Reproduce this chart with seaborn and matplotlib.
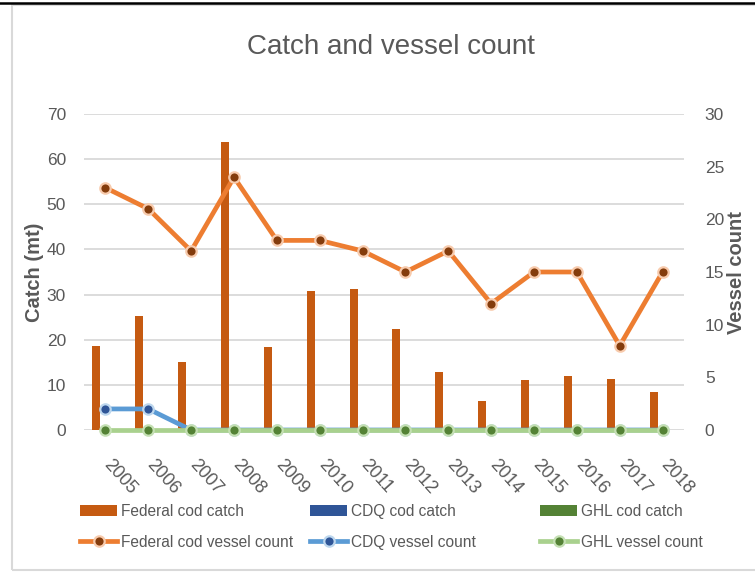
import matplotlib
matplotlib.use("Agg")
import matplotlib.pyplot as plt
import matplotlib.transforms as mtransforms
from matplotlib.patches import Rectangle, Patch
from matplotlib.lines import Line2D
import numpy as np
import pandas as pd
import seaborn as sns

# ---------------- data ----------------
years = ['2005', '2006', '2007', '2008', '2009', '2010', '2011',
         '2012', '2013', '2014', '2015', '2016', '2017', '2018']
federal_catch = [18.7, 25.2, 15.0, 63.7, 18.4, 30.9, 31.2, 22.4, 12.8, 6.5, 11.1, 12.0, 11.3, 8.5]
cdq_catch = [0, 0, 0, 0, 0, 0, 0, 0, 0, 0, 0, 0, 0, 0]
ghl_catch = [0, 0, 0, 0, 0, 0, 0, 0, 0, 0, 0, 0, 0, 0]
federal_vessels = [23, 21, 17, 24, 18, 18, 17, 15, 17, 12, 15, 15, 8, 15]
cdq_vessels = [2, 2, 0, 0, 0, 0, 0, 0, 0, 0, 0, 0, 0, 0]
ghl_vessels = [0, 0, 0, 0, 0, 0, 0, 0, 0, 0, 0, 0, 0, 0]
catch_series = ['Federal cod catch', 'CDQ cod catch', 'GHL cod catch']
vessel_series = ['Federal cod vessel count', 'CDQ vessel count', 'GHL vessel count']
left_ticks = [0, 10, 20, 30, 40, 50, 60, 70]
right_ticks = [0, 5, 10, 15, 20, 25, 30]

# ---------------- style ----------------
FONT = ['Liberation Sans', 'DejaVu Sans']
GRAY = '#595959'
bar_colors = ['#C55A11', '#2F5597', '#548235']
line_colors = ['#ED7D31', '#5B9BD5', '#A9D18E']
mk_face = ['#843C0C', '#2F5597', '#548235']
mk_edge = ['#F8CBAD', '#BDD7EE', '#C5E0B4']

plt.rcParams['font.family'] = FONT

fig = plt.figure(figsize=(7.55, 5.79), dpi=100)
ax = fig.add_axes([84 / 755, 1 - 430 / 579, 600 / 755, 316 / 579])

df = pd.DataFrame({
    'year': years * 3,
    'catch': federal_catch + cdq_catch + ghl_catch,
    'series': [catch_series[0]] * len(years) + [catch_series[1]] * len(years) + [catch_series[2]] * len(years),
})
sns.barplot(data=df, x='year', y='catch', hue='series', hue_order=catch_series,
            palette=bar_colors, saturation=1, width=0.63, gap=0.1,
            ax=ax, legend=False, edgecolor='none', zorder=2)

ax.set_ylim(0, 70)
ax.set_yticks(left_ticks)
ax.yaxis.grid(True, color='#D9D9D9', linewidth=1.3, zorder=0)
ax.set_axisbelow(True)
for s in ax.spines.values():
    s.set_visible(False)
ax.set_xlabel('')
ax.set_ylabel('')
ax.tick_params(axis='y', length=0, pad=13, labelsize=12.5, labelcolor=GRAY)
ax.tick_params(axis='x', length=0, pad=19, labelsize=13, labelcolor=GRAY)
offset = mtransforms.ScaledTranslation(-5 / 100, 0, fig.dpi_scale_trans)
for lab in ax.get_xticklabels():
    lab.set_rotation(-48)
    lab.set_ha('left')
    lab.set_va('top')
    lab.set_transform(lab.get_transform() + offset)

ax2 = ax.twinx()
pos = np.arange(len(years))
for vals, lc, fc, ec in zip([federal_vessels, cdq_vessels, ghl_vessels], line_colors, mk_face, mk_edge):
    sns.lineplot(x=pos, y=vals, ax=ax2, color=lc, linewidth=3.4, marker='o',
                 markersize=7.5, markerfacecolor=fc, markeredgecolor=ec,
                 markeredgewidth=1.6, clip_on=False)
ax2.set_ylim(0, 30)
ax2.set_yticks(right_ticks)
for s in ax2.spines.values():
    s.set_visible(False)
ax2.set_ylabel('')
ax2.tick_params(axis='y', length=0, pad=15, labelsize=12.5, labelcolor=GRAY)
ax.set_xlim(-0.5, len(years) - 0.5)

# titles / axis labels
fig.text(391 / 755, 1 - 47 / 579, 'Catch and vessel count', ha='center', va='center',
         fontsize=20, color=GRAY)
fig.text(35 / 755, 1 - 272 / 579, 'Catch (mt)', rotation=90, ha='center', va='center',
         fontsize=14.5, color=GRAY, fontweight='bold')
fig.text(737 / 755, 1 - 273 / 579, 'Vessel count', rotation=90, ha='center', va='center',
         fontsize=14.5, color=GRAY, fontweight='bold')

# legend: three columns
col_x = [80, 310, 540]
for i in range(3):
    handles = [
        Patch(facecolor=bar_colors[i], edgecolor='none'),
        Line2D([0], [0], color=line_colors[i], linewidth=3.4, marker='o', markersize=7.5,
               markerfacecolor=mk_face[i], markeredgecolor=mk_edge[i], markeredgewidth=1.6),
    ]
    fig.legend(handles, [catch_series[i], vessel_series[i]], loc='upper left',
               bbox_to_anchor=(col_x[i] / 755, 1 - 504 / 579), frameon=False,
               borderpad=0, borderaxespad=0, handlelength=2.4, handleheight=0.65,
               handletextpad=0.25, labelspacing=1.0,
               labelcolor=GRAY, numpoints=1, prop={'size': 11.2})

# frame
fig.add_artist(Rectangle((12 / 755, 1 - 570 / 579), 800 / 755, 565 / 579,
                         transform=fig.transFigure, fill=False, edgecolor='#D9D9D9',
                         linewidth=1.5))
fig.add_artist(Line2D([0, 1], [1 - 3 / 579, 1 - 3 / 579], transform=fig.transFigure,
                      color='black', linewidth=1.8))

fig.savefig('out.png', dpi=100)
